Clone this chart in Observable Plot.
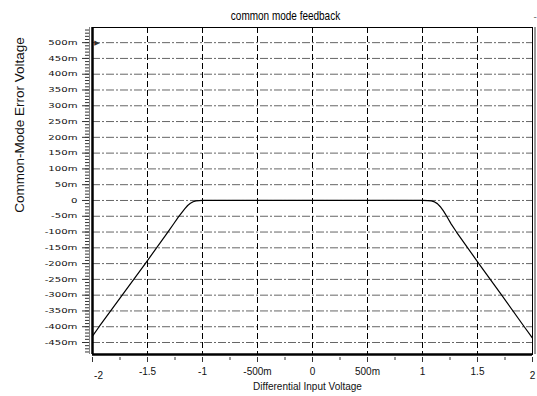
<!DOCTYPE html>
<html>
<head>
<meta charset="utf-8">
<script src="https://cdn.jsdelivr.net/npm/d3@7"></script>
<script src="https://cdn.jsdelivr.net/npm/@observablehq/plot@0.6"></script>
<style>
  html, body { margin: 0; padding: 0; background: white; }
</style>
</head>
<body>
<div id="chart"></div>
<script>
// ---- data ----
const title = "common mode feedback";
const xLabel = "Differential Input Voltage";
const yLabel = "Common-Mode Error Voltage";

// curve: differential input voltage (V) vs common-mode error (V)
const vin = [-2, -1.94, -1.73, -1.52, -1.315, -1.26, -1.22, -1.19, -1.16, -1.135, -1.11, -1.085, -1.06, -1.03, -1.0, 0,
             1.0, 1.05, 1.08, 1.11, 1.135, 1.16, 1.19, 1.22, 1.26, 1.309, 1.512, 1.72, 1.925, 2.0];
const verr = [-0.430, -0.400, -0.300, -0.200, -0.100, -0.073, -0.053, -0.039, -0.026, -0.016, -0.009, -0.004, -0.0015, -0.0003, 0, 0,
              0, -0.0004, -0.0015, -0.0045, -0.010, -0.019, -0.033, -0.050, -0.074, -0.100, -0.200, -0.300, -0.400, -0.436];

const xTicks = [-2, -1.5, -1, -0.5, 0, 0.5, 1, 1.5, 2];
const xTickLabels = ["-2", "-1.5", "-1", "-500m", "0", "500m", "1", "1.5", "2"];
const yTicks = [0.5, 0.45, 0.4, 0.35, 0.3, 0.25, 0.2, 0.15, 0.1, 0.05, 0,
                -0.05, -0.1, -0.15, -0.2, -0.25, -0.3, -0.35, -0.4, -0.45];
const yTickLabels = ["500m", "450m", "400m", "350m", "300m", "250m", "200m", "150m", "100m", "50m", "0",
                     "-50m", "-100m", "-150m", "-200m", "-250m", "-300m", "-350m", "-400m", "-450m"];

const xDomain = [-2, 2];
const yDomain = [-0.488, 0.548];

// ---- layout ----
const W = 537, H = 396, mL = 92, mR = 5, mT = 27, mB = 42;
const pxX = (xDomain[1] - xDomain[0]) / (W - mL - mR);   // data units per pixel
const pxY = (yDomain[1] - yDomain[0]) / (H - mT - mB);
const x0 = xDomain[0], y0 = yDomain[0];

// ---- derived ----
const curve = vin.map((x, i) => ({x, y: verr[i]}));
const xGrid = xTicks.filter(d => d > xDomain[0] && d < xDomain[1]);
const xMinor = d3.range(-1.75, 2, 0.5);
const yMinor = d3.range(-48, 55, 1).map(d => d / 100);
const xMid = xTicks.map((d, i) => ({x: d, t: xTickLabels[i]})).filter(d => d.x !== -2 && d.x !== 2);
const xEnds = xTicks.map((d, i) => ({x: d, t: xTickLabels[i]})).filter(d => d.x === -2 || d.x === 2);
const yLab = yTicks.map((d, i) => ({y: d, t: yTickLabels[i]}));

const sans = "'Liberation Sans', Arial, sans-serif";

const chart = Plot.plot({
  width: W,
  height: H,
  marginLeft: mL,
  marginRight: mR,
  marginTop: mT,
  marginBottom: mB,
  x: {domain: xDomain, axis: null},
  y: {domain: yDomain, axis: null},
  style: {background: "white", fontFamily: sans, color: "black"},
  marks: [
    // grid
    Plot.ruleY(yTicks, {stroke: "#666", strokeWidth: 1, strokeDasharray: "8,2,2,2"}),
    Plot.ruleX(xGrid, {stroke: "black", strokeWidth: 1, strokeDasharray: "6,3"}),
    // frame and heavy axes
    Plot.frame({stroke: "black", strokeWidth: 1}),
    Plot.ruleX([xDomain[1]], {stroke: "#999", strokeWidth: 2, dx: 2.5}),
    Plot.ruleX([x0], {stroke: "black", strokeWidth: 2.5}),
    Plot.ruleX([x0], {stroke: "#888", strokeWidth: 1, dx: -3}),
    Plot.ruleY([y0], {stroke: "black", strokeWidth: 2.5}),
    // axis ticks
    Plot.ruleY(yMinor, {x1: () => x0 - 7 * pxX, x2: () => x0 - 3 * pxX, stroke: "#333", strokeWidth: 1}),
    Plot.ruleY(yTicks, {x1: () => x0 - 10 * pxX, x2: () => x0 - 3 * pxX, stroke: "#333", strokeWidth: 1}),
    Plot.ruleX(xMinor, {y1: () => y0 - 3 * pxY, y2: () => y0 - 6 * pxY, stroke: "#333", strokeWidth: 1}),
    Plot.ruleX(xTicks, {y1: () => y0 - 3 * pxY, y2: () => y0 - 8 * pxY, stroke: "#333", strokeWidth: 1}),
    // curve
    Plot.line(curve, {x: "x", y: "y", stroke: "black", strokeWidth: 1.2}),
    // cursor marker
    Plot.text([0.5], {x: () => x0, y: d => d, text: () => "\u25B6", dx: 4.5, textAnchor: "middle", fontSize: 7, fontFamily: "DejaVu Sans", fill: "#333"}),
    // tick labels
    Plot.text(yLab, {x: () => x0, y: "y", text: "t", textAnchor: "end", dx: -15, fontSize: 7, fontFamily: "DejaVu Sans", fill: "#111"}),
    Plot.text(xMid, {x: "x", y: () => y0, text: "t", dy: 17, fontSize: 10, fill: "#111"}),
    Plot.text(xEnds, {x: "x", y: () => y0, text: "t", dy: 21, fontSize: 10, fill: "#111"}),
    // titles
    Plot.text([title], {frameAnchor: "top", lineAnchor: "middle", textAnchor: "middle", dx: -27, dy: -12, fontSize: 12.5, fill: "black"}),
    Plot.text([xLabel], {frameAnchor: "bottom", lineAnchor: "middle", textAnchor: "middle", dx: -5, dy: 32, fontSize: 10, fill: "#111"}),
    Plot.text([yLabel], {frameAnchor: "left", lineAnchor: "middle", textAnchor: "middle", rotate: -90, dx: -73, dy: -66, fontSize: 13.5, fill: "#111"}),
    Plot.text(["-"], {frameAnchor: "top-right", lineAnchor: "middle", dx: 1, dy: -11, fontSize: 10, fill: "#777", textAnchor: "start"})
  ]
});

document.getElementById("chart").appendChild(chart);

// widen the small y tick labels like the original's extended face
chart.querySelectorAll('g[font-size="7"] text').forEach(t => {
  if (t.textContent.endsWith("m") || t.textContent === "0")
    t.setAttribute("transform", t.getAttribute("transform") + " scale(1.45,1)");
});
// condensed title like the original
chart.querySelectorAll("text").forEach(t => {
  if (t.textContent === title) t.setAttribute("transform", t.getAttribute("transform") + " scale(0.8,1)");
  if (t.textContent === "-2") t.setAttribute("dx", "6");
});
</script>
</body>
</html>
